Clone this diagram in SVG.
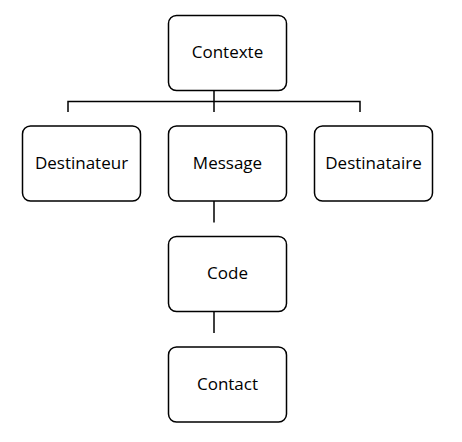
<svg xmlns="http://www.w3.org/2000/svg" width="462" height="442" viewBox="0 0 462 442">
<style>
.box{fill:#fff;stroke:#000;stroke-width:1.5}
.lbl{font-family:"Open Sans","Liberation Sans",sans-serif;font-size:17px;fill:#000;text-anchor:middle}
.con{fill:none;stroke:#000;stroke-width:1.5}
</style>
<rect width="462" height="442" fill="#fff"/>
<g id="connectors">
<path class="con" d="M214 90V112M68 112V101.5H360V112M214 201V222.5M214 312V333"/>
</g>
<g id="contexte"><rect class="box" x="168.5" y="15.5" width="118" height="75" rx="8"/><text class="lbl" x="227.5" y="58">Contexte</text></g>
<g id="destinateur"><rect class="box" x="22.5" y="126" width="118" height="75" rx="8"/><text class="lbl" x="81.5" y="168.5">Destinateur</text></g>
<g id="message"><rect class="box" x="168.5" y="126" width="118" height="75" rx="8"/><text class="lbl" x="227.5" y="168.5">Message</text></g>
<g id="destinataire"><rect class="box" x="314.5" y="126" width="118" height="75" rx="8"/><text class="lbl" x="373.5" y="168.5">Destinataire</text></g>
<g id="code"><rect class="box" x="168.5" y="236.5" width="118" height="75" rx="8"/><text class="lbl" x="227.5" y="279">Code</text></g>
<g id="contact"><rect class="box" x="168.5" y="347" width="118" height="75" rx="8"/><text class="lbl" x="227.5" y="390">Contact</text></g>
</svg>
